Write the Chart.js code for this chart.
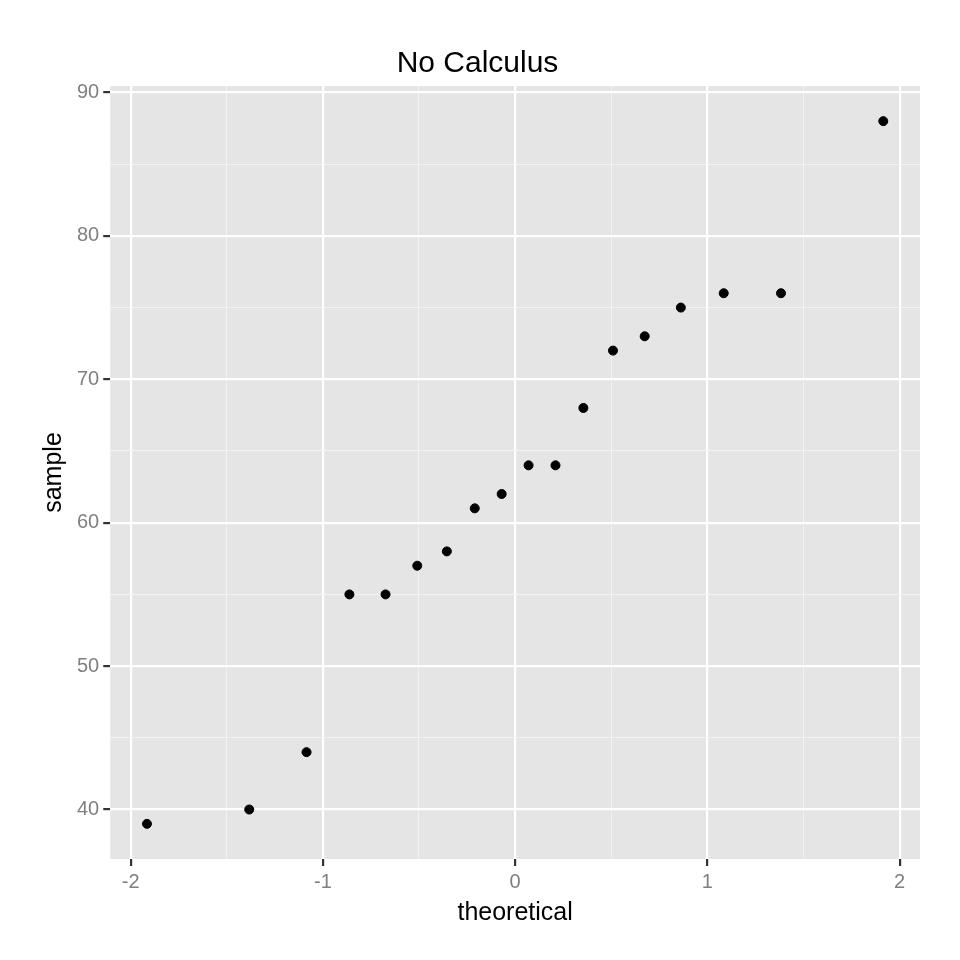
<!DOCTYPE html>
<html><head><meta charset="utf-8">
<script src="https://cdn.jsdelivr.net/npm/chart.js@4"></script>
<style>html,body{margin:0;background:#fff}#w{width:960px;height:960px}</style>
</head><body><div id="w"><canvas id="c"></canvas></div>
<script>
const theoretical=[-1.915,-1.383,-1.085,-0.862,-0.674,-0.509,-0.355,-0.210,-0.070,0.070,0.210,0.355,0.509,0.674,0.862,1.085,1.383,1.915];
const sample=[39,40,44,55,55,57,58,61,62,64,64,68,72,73,75,76,76,88];
const xTicks=[-2,-1.5,-1,-0.5,0,0.5,1,1.5,2];
const yTicks=[40,45,50,55,60,65,70,75,80,85,90];
const bg={id:'bg',beforeDraw(c){const a=c.chartArea,x=c.ctx;x.save();x.fillStyle='#e5e5e5';x.fillRect(a.left,a.top,a.right-a.left,a.bottom-a.top);x.restore();}};
const isMajor=v=>Number.isInteger(v);
function grid(){return {color:c=>isMajor(c.tick.value)?'#ffffff':'#f2f2f2',lineWidth:c=>isMajor(c.tick.value)?2.2:1,
 tickColor:c=>isMajor(c.tick.value)?'#333333':'rgba(0,0,0,0)',tickLength:7,drawTicks:true};}
new Chart(document.getElementById('c'),{type:'scatter',
data:{datasets:[{data:theoretical.map((t,i)=>({x:t,y:sample[i]})),backgroundColor:'#000',borderColor:'#000',pointRadius:4.5}]},
plugins:[bg],
options:{responsive:true,maintainAspectRatio:false,animation:false,
layout:{padding:{left:35,right:40,top:10,bottom:28}},
plugins:{legend:{display:false},tooltip:{enabled:false},
 title:{display:true,text:'No Calculus',color:'#000',font:{family:'Liberation Sans',size:30,weight:'normal'},padding:{top:36,bottom:4}}},
scales:{
 x:{type:'linear',min:-2.106,max:2.106,border:{display:false},
  afterBuildTicks:s=>{s.ticks=xTicks.map(v=>({value:v}));},
  ticks:{color:'#7f7f7f',font:{family:'Liberation Sans',size:20},padding:4,callback:v=>Number.isInteger(v)?String(v):''},
  grid:grid(),title:{display:true,text:'theoretical',color:'#000',font:{family:'Liberation Sans',size:25},padding:{top:0}}},
 y:{type:'linear',min:36.55,max:90.45,border:{display:false},
  afterBuildTicks:s=>{s.ticks=yTicks.map(v=>({value:v}));},
  ticks:{color:'#7f7f7f',font:{family:'Liberation Sans',size:20},padding:4,callback:v=>v%10===0?String(v):''},
  grid:{color:c=>c.tick.value%10===0?'#ffffff':'#f2f2f2',lineWidth:c=>c.tick.value%10===0?2.2:1,tickColor:c=>c.tick.value%10===0?'#333333':'rgba(0,0,0,0)',tickLength:7},
  title:{display:true,text:'sample',color:'#000',font:{family:'Liberation Sans',size:25},padding:{bottom:4}}}
}}});
</script></body></html>
